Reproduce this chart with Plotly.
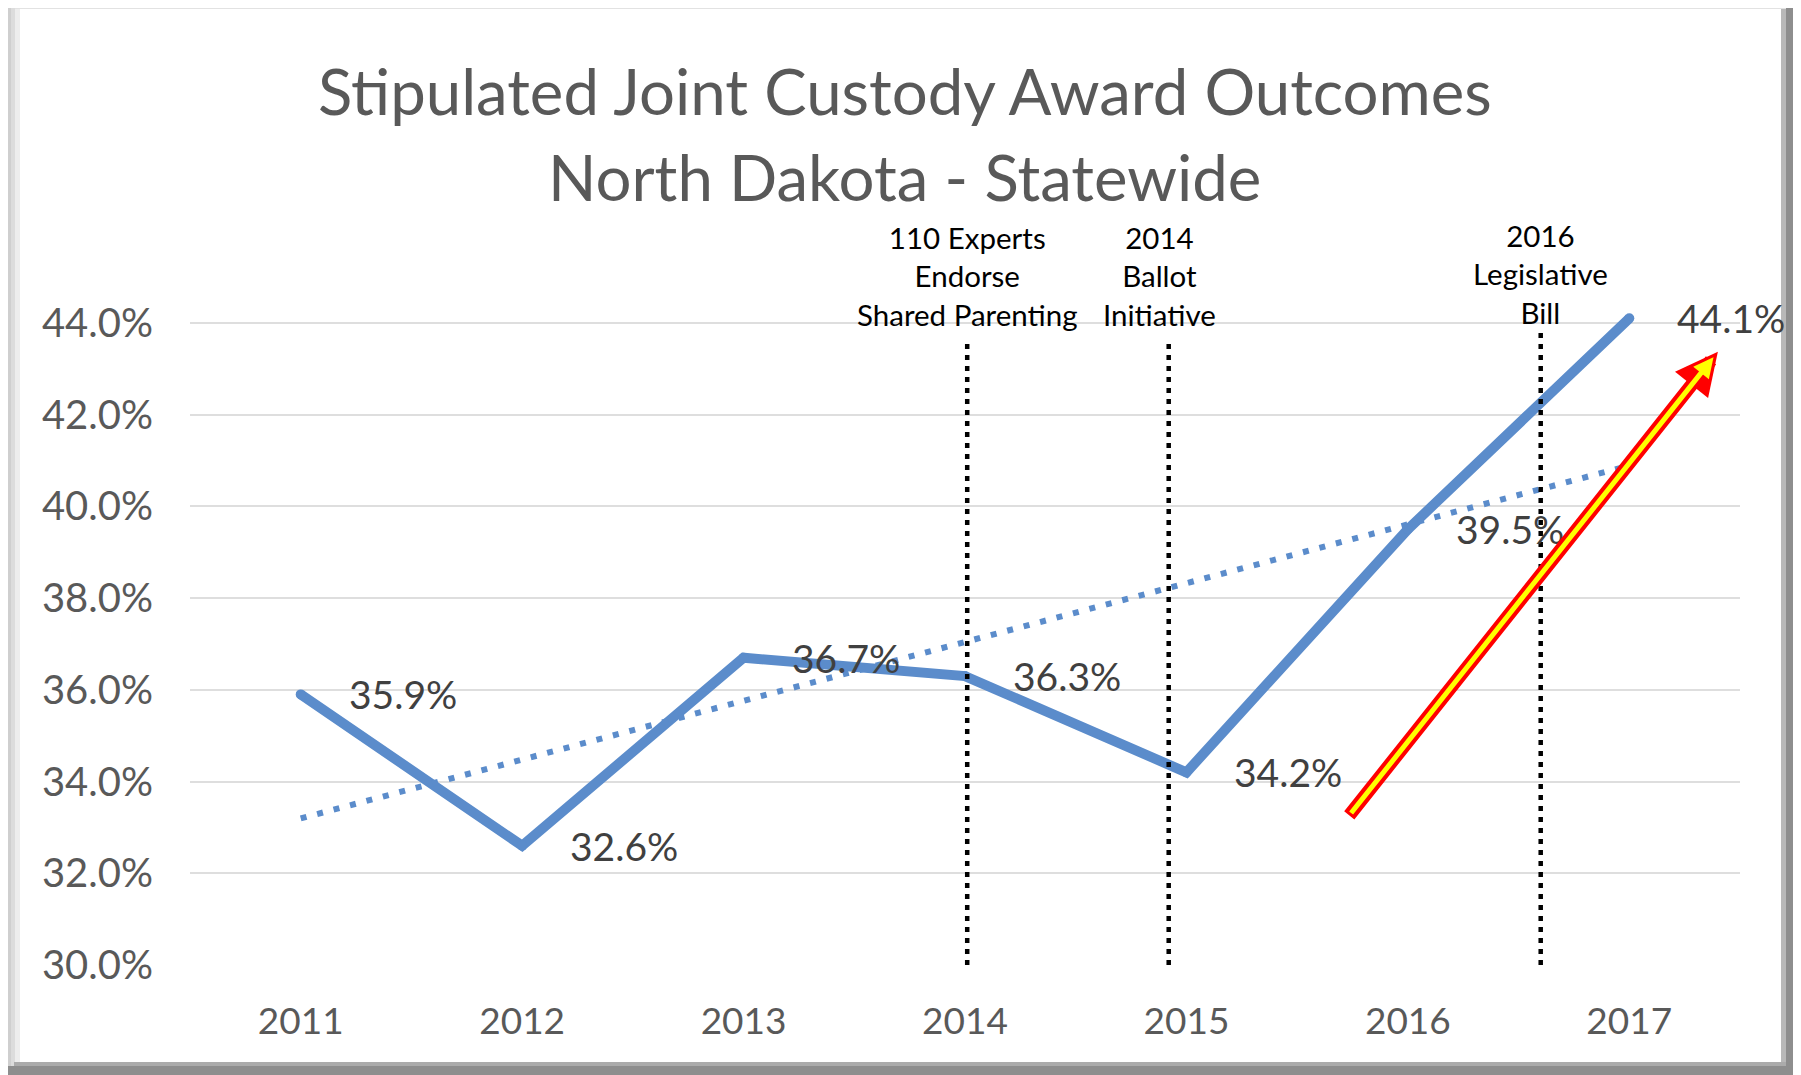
import numpy as np
import plotly.graph_objects as go

# ---------------- data ----------------
years = ["2011", "2012", "2013", "2014", "2015", "2016", "2017"]
rates = [35.9, 32.6, 36.7, 36.3, 34.2, 39.5, 44.1]
y_ticks = [30, 32, 34, 36, 38, 40, 42, 44]

title_lines = ["Stipulated Joint Custody Award Outcomes", "North Dakota - Statewide"]

event_labels = ["110 Experts<br>Endorse<br>Shared Parenting",
                "2014<br>Ballot<br>Initiative",
                "2016<br>Legislative<br>Bill"]
event_line_x = [3.01, 3.92, 5.60]
event_text_x = [3.01, 3.88, 5.60]
event_line_top = [43.56, 43.56, 43.91]

arrow_tail = (4.73, 33.23)
arrow_tip = (6.40, 43.37)

# ---------------- geometry ----------------
OFF = 8                      # page body margin
W, H = 1801 - OFF, 1075 - OFF
ML, MR, MT, MB = 182, 61, 282, 110
PW, PH = W - ML - MR, H - MT - MB
PX_PER_PCT = 45.864
y_range = [30, 30 + PH / PX_PER_PCT]

def px(xp):  # page pixel -> paper
    return (xp - OFF - ML) / PW

def py(yp):
    return (H - MB - (yp - OFF)) / PH

FONT = "Lato"
BLUE = "#5B8CCB"

x_idx = list(range(len(years)))

fig = go.Figure()

fig.add_trace(go.Scatter(
    x=x_idx, y=rates, mode="lines+markers",
    line=dict(color=BLUE, width=10),
    marker=dict(color=BLUE, size=10),
    hoverinfo="skip", showlegend=False,
))

# linear trendline (least squares of the series, as in the source chart)
coef = np.polyfit(x_idx, rates, 1)
trend = np.polyval(coef, x_idx)
fig.add_trace(go.Scatter(
    x=x_idx, y=trend, mode="lines",
    line=dict(color=BLUE, width=6, dash="6px,11px"),
    hoverinfo="skip", showlegend=False,
))

annotations = []
# data labels
for i, v in enumerate(rates):
    annotations.append(dict(
        x=i, y=v, xref="x", yref="y", text=f"{v:.1f}%", showarrow=False,
        xanchor="left", yanchor="middle", xshift=46,
        font=dict(family=FONT, size=39, color="#404040"),
    ))

# title lines
for txt, yp in zip(title_lines, [90, 176]):
    annotations.append(dict(
        x=px(1801 / 2 + 4), y=py(yp), xref="paper", yref="paper", text=txt,
        showarrow=False, xanchor="center", yanchor="middle",
        font=dict(family=FONT, size=63.5, color="#595959"),
    ))

# event labels
for txt, xv, yp in zip(event_labels, event_text_x, [276, 276, 274]):
    annotations.append(dict(
        x=xv, y=py(yp), xref="x", yref="paper", text=txt, showarrow=False,
        xanchor="center", yanchor="middle",
        font=dict(family=FONT, size=29.5, color="#000000"),
    ))

# red / yellow arrow
annotations.append(dict(
    x=arrow_tip[0], y=arrow_tip[1], ax=arrow_tail[0], ay=arrow_tail[1],
    xref="x", yref="y", axref="x", ayref="y", text="", showarrow=True,
    arrowcolor="#FF0000", arrowwidth=13, arrowhead=2, arrowsize=0.65,
))
annotations.append(dict(
    x=arrow_tip[0], y=arrow_tip[1], ax=arrow_tail[0], ay=arrow_tail[1],
    xref="x", yref="y", axref="x", ayref="y", text="", showarrow=True,
    arrowcolor="#FFFF00", arrowwidth=5, arrowhead=2, arrowsize=0.8,
    standoff=7, startstandoff=3,
))

shapes = []
# event dotted lines
for xv, top in zip(event_line_x, event_line_top):
    shapes.append(dict(
        type="line", xref="x", yref="y", x0=xv, x1=xv, y0=30, y1=top,
        line=dict(color="#000000", width=4.5, dash="5px,6px"), layer="above",
    ))

# bevelled frame (page pixel coordinates)
def rect(x0, x1, y0, y1, color):
    shapes.append(dict(
        type="rect", xref="paper", yref="paper",
        x0=px(x0), x1=px(x1), y0=py(y1), y1=py(y0),
        fillcolor=color, line=dict(width=0), layer="above",
    ))

rect(8, 1795, 6, 9, "#E2E2E2")
rect(8, 11, 6, 1068, "#CFCFCF")
rect(11, 15, 8, 1066, "#DCDCDC")
rect(15, 20, 9, 1064, "#EDEDED")
rect(1781, 1786, 9, 1066, "#B8B8B8")
rect(1786, 1795, 7, 1075, "#8E8E8E")
rect(1795, 1801, 10, 1075, "#B5B5B5")
rect(14, 1786, 1062, 1066, "#ABABAB")
rect(8, 1801, 1066, 1075, "#8E8E8E")

fig.update_layout(
    width=W, height=H,
    margin=dict(l=ML, r=MR, t=MT, b=MB),
    paper_bgcolor="white", plot_bgcolor="white",
    annotations=annotations, shapes=shapes,
    xaxis=dict(
        range=[-0.5, len(years) - 0.5], tickvals=x_idx, ticktext=years,
        showgrid=False, zeroline=False, showline=False, ticks="",
        ticklabelstandoff=31,
        tickfont=dict(family=FONT, size=37, color="#595959"),
    ),
    yaxis=dict(
        range=y_range, tickvals=y_ticks,
        ticktext=[f"{t:.1f}%" for t in y_ticks],
        showgrid=True, gridcolor="#DEDEDE", gridwidth=2,
        zeroline=False, showline=False, ticks="",
        ticklabelstandoff=36,
        tickfont=dict(family=FONT, size=40, color="#595959"),
    ),
)

fig.write_html("out.html")
